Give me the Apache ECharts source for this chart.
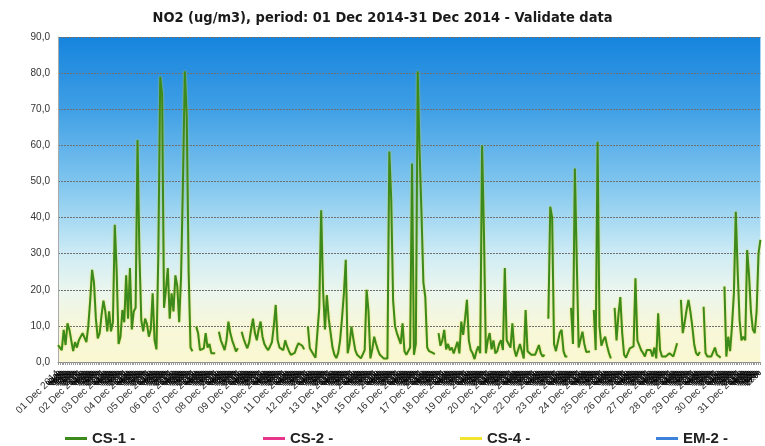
<!DOCTYPE html>
<html>
<head>
<meta charset="utf-8">
<script src="https://cdn.jsdelivr.net/npm/echarts@6/dist/echarts.min.js"></script>
<style>
html, body { margin: 0; padding: 0; background: #fff; }
#main { width: 765px; height: 446px; }
</style>
</head>
<body>
<div id="main"></div>
<script>
// day labels and two-hour slots of each day
var days = ['01 Dec 2014', '02 Dec 2014', '03 Dec 2014', '04 Dec 2014', '05 Dec 2014', '06 Dec 2014', '07 Dec 2014',
	'08 Dec 2014', '09 Dec 2014', '10 Dec 2014', '11 Dec 2014', '12 Dec 2014', '13 Dec 2014', '14 Dec 2014',
	'15 Dec 2014', '16 Dec 2014', '17 Dec 2014', '18 Dec 2014', '19 Dec 2014', '20 Dec 2014', '21 Dec 2014',
	'22 Dec 2014', '23 Dec 2014', '24 Dec 2014', '25 Dec 2014', '26 Dec 2014', '27 Dec 2014', '28 Dec 2014',
	'29 Dec 2014', '30 Dec 2014', '31 Dec 2014'];
var hours = ['00:00', '02:00', '04:00', '06:00', '08:00', '10:00', '12:00', '14:00', '16:00', '18:00', '20:00', '22:00'];

// CS-1, NO2 ug/m3, one value per two hours (null = no data)
var cs1Week1 = [
	4.7, 4, 3.3, 8.9, 4.7, 10.7, 9, 6, 3, 5.5, 4, 6,
	6.5, 8, 7.5, 5.5, 10, 17, 25.5, 22, 12, 6.5, 8, 13,
	17, 14, 8.5, 14, 8.5, 11, 38, 25, 5, 7, 14.4, 11,
	24, 12, 26, 9, 14, 15, 61.5, 30, 11.5, 8.5, 12, 10.5,
	7, 9, 19, 6, 3.5, 30, 79, 74, 15, 20, 26, 12,
	19, 14, 24, 21, 11, 23.6, 50, 80.5, 68, 25, 4, 3,
	null, 9.8, 8, 3.3, 3.3, 3.8, 8, 4, 5, 2.4, 2.4, 2.4
];
var cs1Week2 = [
	null, 8.4, 6, 4.7, 3.3, 6, 11.2, 8, 6, 4.5, 2.9, 3.8,
	null, 8.4, 6.5, 5, 3.8, 5.5, 9, 12, 8, 6, 9, 11.2,
	7, 5, 4, 3.3, 4.3, 5.5, 10, 15.8, 6, 4, 3.5, 3.3,
	6, 4.3, 3, 2, 1.5, 2.5, 4, 5.2, 5, 4.5, 3.5, null,
	9.8, 3.8, 3.3, 2, 1.2, 1, 15, 42, 20, 9, 18.5, 12,
	8, 4, 2, 1.1, 2.5, 6, 12, 19, 28.3, 2.4, 5, 9.8,
	6.4, 3.3, 2, 1.5, 1, 1.2, 3.3, 20, 14, 1, 3.5, 7
];
var cs1Week3 = [
	5, 3.3, 2, 1.5, 1, 0.6, 1, 58.3, 45, 17, 10, 8,
	8, 5, 10.7, 3, 2, 2, 4, 55, 2, 5, 80.5, 58,
	41, 22, 18, 4, 3, 3.3, 2.5, 2.2, null, 8, 4.5, 6,
	8.9, 3.5, 5, 3.3, 4, 2.4, 4, 5.6, 2.4, 11.2, 7.5, 12,
	17.2, 6, 3.3, 2.4, 0.8, 3, 4.3, 2.4, 60, 35, 2.4, 6,
	8, 3.5, 6, 2.4, 3, 5, 6, 3.3, 26, 6, 5, 4,
	10.7, 3.5, 1.5, 3.3, 5, 5, 1, 14.4, 3, 2.5, 2, 1.5
];
var cs1Week4 = [
	2, 2.4, 4.7, 2.4, 1.5, 2, null, 12, 43, 40, 5, 3,
	3, 8, 8.9, 3, 1.5, 1.5, null, 15, 5, 53.6, 28, 4,
	3.5, 8.4, 5, 2.8, 2.4, 2.9, null, 14.4, 3.3, 61, 10, 4.5,
	6, 7, 4.5, 2.5, 1, null, 15, 6, 13, 18, 8, 2,
	1.2, 1, 3.8, 3.5, 4.3, 23.2, 6, 6, 3.3, 2.5, 1.5, 3.3,
	3, 3.3, 1.5, 4, 1, 13.5, 3.3, 1.5, 1.5, 1.5, 1.5, 2.4,
	2, 1.5, 3.3, 5.2, null, 17.2, 8, 11, 14.4, 17.2, 14, 10
];
var cs1Week5 = [
	5, 2.5, 1.8, 2.8, null, 15.3, 2.5, 1.5, 1.2, 1.5, 1, 4,
	2, 1.5, 1.2, null, 20.9, 1.5, 7, 3, 10, 19, 41.6, 25,
	11.6, 6, 7, 6, 31, 24, 14, 9, 8, 14, 30, 33.8
];
// the other stations have no data in this period
var cs2 = [];
var cs4 = [];
var em2 = [];

var seriesNames = ['CS-1 -', 'CS-2 -', 'CS-4 -', 'EM-2 -'];

var categories = [];
days.forEach(function (d) {
	hours.forEach(function (h) {
		categories.push(d + ' ' + h);
	});
});
var cs1 = cs1Week1.concat(cs1Week2, cs1Week3, cs1Week4, cs1Week5);

var myChart = echarts.init(document.getElementById('main'));

var option = {
	animation: false,
	backgroundColor: '#fff',
	title: {
		text: 'NO2 (ug/m3), period: 01 Dec 2014-31 Dec 2014 - Validate data',
		left: 'center',
		top: 6,
		textStyle: { fontSize: 14.5, fontWeight: 'bold', color: '#1a1a1a', fontFamily: 'DejaVu Sans Condensed, DejaVu Sans' }
	},
	color: ['#3c8a1c', '#e8358c', '#f2e530', '#3b82d8'],
	legend: seriesNames.map(function (n, i) {
		return {
			data: [n],
			left: [60, 258, 455, 651][i],
			top: 426,
			icon: 'rect',
			itemWidth: 22,
			itemHeight: 3,
			textStyle: { fontSize: 15, fontWeight: 'bold', color: '#222', fontFamily: 'Liberation Sans' }
		};
	}),
	grid: {
		left: 58,
		right: 2,
		top: 37,
		bottom: 84,
		show: true,
		borderWidth: 0,
		backgroundColor: new echarts.graphic.LinearGradient(0, 0, 0, 1, [
			{ offset: 0, color: '#1684dd' },
			{ offset: 0.22, color: '#3f9fe5' },
			{ offset: 0.44, color: '#7dc4ee' },
			{ offset: 0.56, color: '#a6d9f2' },
			{ offset: 0.67, color: '#cfecf5' },
			{ offset: 0.78, color: '#ebf6ee' },
			{ offset: 0.89, color: '#f7f7da' },
			{ offset: 1, color: '#faf8d2' }
		])
	},
	xAxis: {
		type: 'category',
		data: categories,
		boundaryGap: false,
		axisLine: { lineStyle: { color: '#888', width: 1 } },
		axisTick: { interval: 0, length: 3, lineStyle: { color: '#999' } },
		axisLabel: {
			interval: 0,
			rotate: 45,
			margin: 10,
			formatter: function (val, idx) {
				var parts = val.split(' ');
				if (idx % hours.length === 0) {
					return '{d|' + parts[0] + ' ' + parts[1] + ' ' + parts[2] + '}';
				}
				return '{h|' + parts[3] + '}';
			},
			rich: {
				d: { fontSize: 10, color: '#333', fontFamily: 'Liberation Sans' },
				h: { fontSize: 7, color: '#000', fontWeight: 'bold', fontFamily: 'Liberation Sans' }
			}
		}
	},
	yAxis: {
		type: 'value',
		min: 0,
		max: 90,
		interval: 10,
		axisLine: { show: true, lineStyle: { color: '#aaa' } },
		axisTick: { show: false },
		axisLabel: {
			fontSize: 10,
			color: '#333',
			fontFamily: 'Liberation Sans',
			margin: 8,
			formatter: function (v) { return v.toFixed(1).replace('.', ','); }
		},
		splitLine: { lineStyle: { color: '#6f6f6f', type: [2, 1], width: 1 } }
	},
	series: [
		{
			name: seriesNames[0],
			type: 'line',
			data: cs1,
			showSymbol: false,
			connectNulls: false,
			lineStyle: { width: 2, color: '#3c8a1c', shadowColor: 'rgba(225,215,40,0.8)', shadowBlur: 2 }
		},
		{ name: seriesNames[1], type: 'line', data: cs2, showSymbol: false },
		{ name: seriesNames[2], type: 'line', data: cs4, showSymbol: false },
		{ name: seriesNames[3], type: 'line', data: em2, showSymbol: false }
	]
};

myChart.setOption(option);
</script>
</body>
</html>
